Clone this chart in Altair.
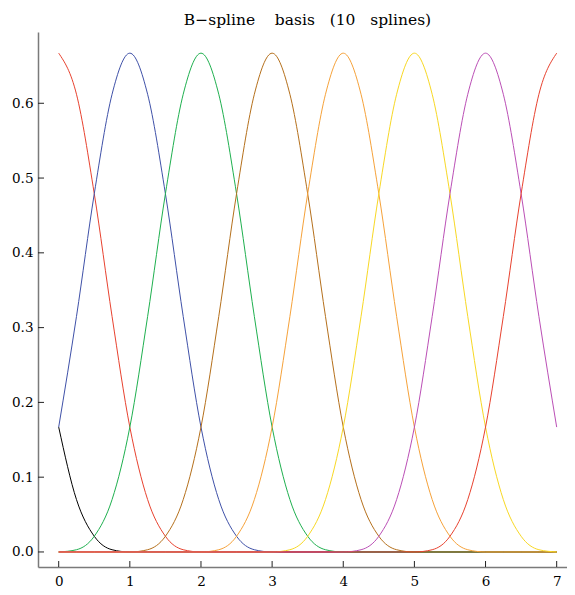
import altair as alt
import pandas as pd

# x grid of the sampled curves
x_grid = [0.0, 0.25, 0.5, 0.75, 1.0, 1.25, 1.5, 1.75, 2.0, 2.25, 2.5, 2.75,
          3.0, 3.25, 3.5, 3.75, 4.0, 4.25, 4.5, 4.75, 5.0, 5.25, 5.5, 5.75,
          6.0, 6.25, 6.5, 6.75, 7.0]

# values, one list per spline
s_black = [0.167, 0.070, 0.021, 0.003, 0, 0, 0, 0, 0, 0, 0, 0, 0, 0, 0, 0,
           0, 0, 0, 0, 0, 0, 0, 0, 0, 0, 0, 0, 0]
s_red0 = [0.667, 0.612, 0.479, 0.315, 0.167, 0.070, 0.021, 0.003, 0, 0, 0, 0,
          0, 0, 0, 0, 0, 0, 0, 0, 0, 0, 0, 0, 0, 0, 0, 0, 0]
s_blue = [0.167, 0.315, 0.479, 0.612, 0.667, 0.612, 0.479, 0.315, 0.167, 0.070,
          0.021, 0.003, 0, 0, 0, 0, 0, 0, 0, 0, 0, 0, 0, 0, 0, 0, 0, 0, 0]
s_green = [0, 0.003, 0.021, 0.070, 0.167, 0.315, 0.479, 0.612, 0.667, 0.612,
           0.479, 0.315, 0.167, 0.070, 0.021, 0.003, 0, 0, 0, 0, 0, 0, 0, 0,
           0, 0, 0, 0, 0]
s_brown = [0, 0, 0, 0, 0, 0.003, 0.021, 0.070, 0.167, 0.315, 0.479, 0.612,
           0.667, 0.612, 0.479, 0.315, 0.167, 0.070, 0.021, 0.003, 0, 0, 0, 0,
           0, 0, 0, 0, 0]
s_orange = [0, 0, 0, 0, 0, 0, 0, 0, 0, 0.003, 0.021, 0.070, 0.167, 0.315,
            0.479, 0.612, 0.667, 0.612, 0.479, 0.315, 0.167, 0.070, 0.021,
            0.003, 0, 0, 0, 0, 0]
s_yellow = [0, 0, 0, 0, 0, 0, 0, 0, 0, 0, 0, 0, 0, 0.003, 0.021, 0.070, 0.167,
            0.315, 0.479, 0.612, 0.667, 0.612, 0.479, 0.315, 0.167, 0.070,
            0.021, 0.003, 0]
s_purple = [0, 0, 0, 0, 0, 0, 0, 0, 0, 0, 0, 0, 0, 0, 0, 0, 0, 0.003, 0.021,
            0.070, 0.167, 0.315, 0.479, 0.612, 0.667, 0.612, 0.479, 0.315, 0.167]
s_red7 = [0, 0, 0, 0, 0, 0, 0, 0, 0, 0, 0, 0, 0, 0, 0, 0, 0, 0, 0, 0, 0,
          0.003, 0.021, 0.070, 0.167, 0.315, 0.479, 0.612, 0.667]

series_names = ["s01", "s02", "s03", "s04", "s05", "s06", "s07", "s08", "s09"]
series_values = [s_black, s_red0, s_blue, s_green, s_brown, s_orange,
                 s_yellow, s_purple, s_red7]
series_colors = ["#000000", "#e8422f", "#3f51a8", "#1fb04f", "#b5701c",
                 "#f6a23a", "#f8d824", "#bb4fb6", "#e8422f"]

x_ticks = [0, 1, 2, 3, 4, 5, 6, 7]
y_ticks = [0.0, 0.1, 0.2, 0.3, 0.4, 0.5, 0.6]

title_text = "B\u2212spline\u00a0\u00a0\u00a0\u00a0basis\u00a0\u00a0\u00a0(10\u00a0\u00a0\u00a0splines)"

rows = []
for name, vals in zip(series_names, series_values):
    for xv, yv in zip(x_grid, vals):
        rows.append({"series": name, "x": xv, "y": yv})
df = pd.DataFrame(rows)

W, H = 529, 535
FONT = "DejaVu Serif"

xscale = alt.Scale(domain=[-0.291, 7.145], nice=False, zero=False)
yscale = alt.Scale(domain=[-0.0201, 0.6953], nice=False, zero=False)

xaxis = alt.Axis(values=x_ticks, format="d", ticks=False, grid=False,
                 domainColor="#7a7a7a", domainWidth=1.5,
                 labelFont=FONT, labelFontSize=13.5, labelColor="black",
                 labelPadding=7)
yaxis = alt.Axis(values=y_ticks, format=".1f", ticks=False, grid=False,
                 domainColor="#7a7a7a", domainWidth=1.5,
                 labelFont=FONT, labelFontSize=13.5, labelColor="black",
                 labelPadding=5)

lines = alt.Chart(df).mark_line(strokeWidth=1, interpolate="monotone").encode(
    x=alt.X("x:Q", scale=xscale, title=None, axis=xaxis),
    y=alt.Y("y:Q", scale=yscale, title=None, axis=yaxis),
    color=alt.Color("series:N", scale=alt.Scale(domain=series_names, range=series_colors),
                    legend=None),
)

xt = alt.Chart(pd.DataFrame({"v": x_ticks})).mark_rule(color="#222222", strokeWidth=1).encode(
    x=alt.X("v:Q", scale=xscale, title=None, axis=xaxis),
    y=alt.value(H), y2=alt.value(H - 6),
)
yt = alt.Chart(pd.DataFrame({"v": y_ticks})).mark_rule(color="#222222", strokeWidth=1).encode(
    y=alt.Y("v:Q", scale=yscale, title=None, axis=yaxis),
    x=alt.value(0), x2=alt.value(6),
)

chart = alt.layer(lines, xt, yt).properties(
    width=W, height=H,
    title=alt.TitleParams(title_text, font=FONT, fontSize=15.5,
                          fontWeight="normal", color="black", anchor="middle",
                          offset=4, dx=5),
    autosize=alt.AutoSizeParams(type="none"),
    padding={"left": 30, "top": 24, "right": 0, "bottom": 20},
    background="white",
).configure_view(stroke=None)

chart.save("out.html", embed_options={"renderer": "svg", "actions": False})
